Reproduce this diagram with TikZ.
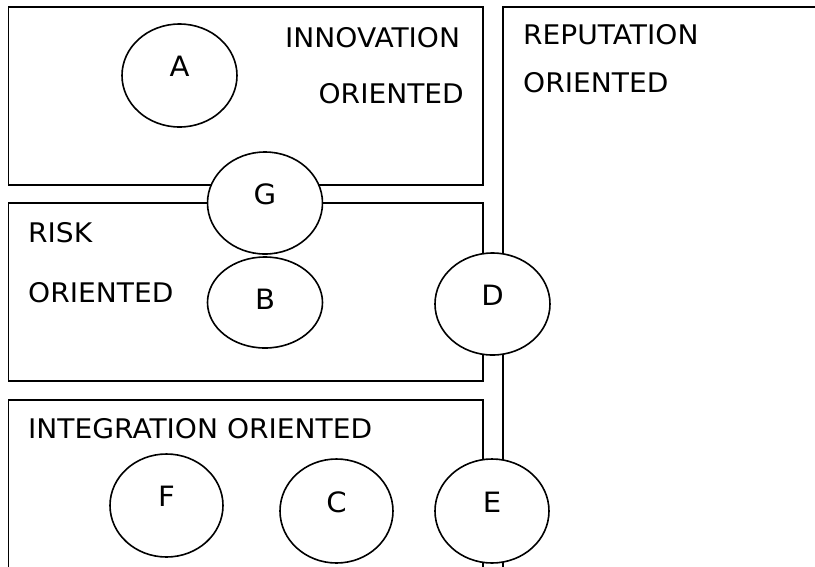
\documentclass[tikz,border=0pt]{standalone}
\usepackage{fontspec}
\setmainfont[FakeStretch=1.04]{DejaVu Sans}
\usetikzlibrary{shapes.geometric}
\tikzset{
  box/.style={draw=black, line width=1.8pt},
  oval/.style={ellipse, draw=black, fill=white, line width=1.6pt, inner sep=0pt},
  lbl/.style={inner sep=0pt, anchor=base west, font=\fontsize{27}{30}\selectfont},
  letter/.style={inner sep=0pt, yshift=9pt, font=\fontsize{28}{30}\selectfont},
}
\begin{document}
\begin{tikzpicture}[x=1pt,y=-1pt]
\useasboundingbox (0,0) rectangle (815,566);
\fill[white] (0,0) rectangle (815,566);
\clip (0,0) rectangle (815,566);
% boxes
\draw[box] (8.5,7) rectangle (483,185);
\draw[box] (503,7) rectangle (830,580);
\draw[box] (8.5,203) rectangle (483,381);
\draw[box] (8.5,400) rectangle (483,580);
% labels
\node[lbl] (innov) at (285,47) {INNOVATION};
\node[lbl, anchor=base east] (innovor) at (464,103) {ORIENTED};
\node[lbl] (rep) at (523,44) {REPUTATION};
\node[lbl] (repor) at (523,92) {ORIENTED};
\node[lbl] (risk) at (28,242) {RISK};
\node[lbl] (riskor) at (28,302) {ORIENTED};
\node[lbl] (integ) at (28,438) {INTEGRATION ORIENTED};
% ovals
\node[oval, minimum width=115pt, minimum height=103pt] (A) at (179.5,75.5) {};
\node[letter] at (A.center) {A};
\node[oval, minimum width=115pt, minimum height=102pt] (G) at (265,203) {};
\node[letter] at (G.center) {G};
\node[oval, minimum width=115pt, minimum height=91pt] (B) at (265,302.5) {};
\node[letter, yshift=-6pt] at (B.center) {B};
\node[oval, minimum width=115pt, minimum height=102pt] (D) at (492.5,304) {};
\node[letter] at (D.center) {D};
\node[oval, minimum width=113pt, minimum height=103pt] (F) at (166.5,505.5) {};
\node[letter] at (F.center) {F};
\node[oval, minimum width=113pt, minimum height=104pt] (C) at (336.5,511) {};
\node[letter] at (C.center) {C};
\node[oval, minimum width=114pt, minimum height=104pt] (E) at (492,511) {};
\node[letter] at (E.center) {E};
\end{tikzpicture}
\end{document}
